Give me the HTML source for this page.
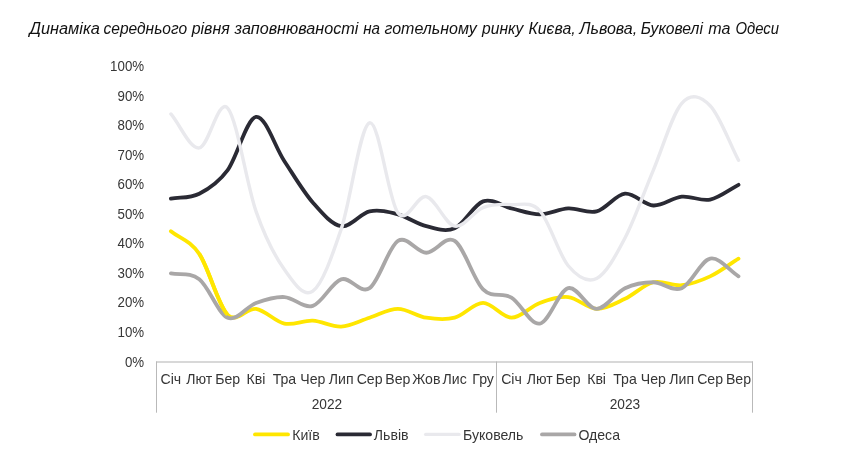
<!DOCTYPE html>
<html lang="uk">
<head>
<meta charset="utf-8">
<title>Динаміка середнього рівня заповнюваності</title>
<style>
html,body{margin:0;padding:0;background:#fff;}
body{width:843px;height:455px;overflow:hidden;position:relative;font-family:"Liberation Sans",sans-serif;}
svg{position:absolute;left:0;top:0;display:block;filter:blur(0.45px);}
.t{font-family:"Liberation Sans",sans-serif;font-size:14.1px;fill:#363636;}
.title{font-family:"Liberation Sans",sans-serif;font-style:italic;font-size:16px;fill:#121212;}
.ln{fill:none;stroke-linecap:round;stroke-linejoin:round;}
.ax{stroke:#bfbfbf;stroke-width:1;fill:none;}
</style>
</head>
<body>
<svg width="843" height="455" viewBox="0 0 843 455">
<rect x="0" y="0" width="843" height="455" fill="#ffffff"/>
<text class="title" y="34.3"><tspan x="29.40" textLength="70.41" lengthAdjust="spacingAndGlyphs">Динаміка</tspan> <tspan x="103.49" textLength="83.65" lengthAdjust="spacingAndGlyphs">середнього</tspan> <tspan x="191.65" textLength="38.11" lengthAdjust="spacingAndGlyphs">рівня</tspan> <tspan x="234.57" textLength="123.79" lengthAdjust="spacingAndGlyphs">заповнюваності</tspan> <tspan x="363.19" textLength="16.82" lengthAdjust="spacingAndGlyphs">на</tspan> <tspan x="384.48" textLength="92.22" lengthAdjust="spacingAndGlyphs">готельному</tspan> <tspan x="482.05" textLength="41.17" lengthAdjust="spacingAndGlyphs">ринку</tspan> <tspan x="528.43" textLength="47.21" lengthAdjust="spacingAndGlyphs">Києва,</tspan> <tspan x="579.51" textLength="57.64" lengthAdjust="spacingAndGlyphs">Львова,</tspan> <tspan x="640.73" textLength="62.17" lengthAdjust="spacingAndGlyphs">Буковелі</tspan> <tspan x="708.22" textLength="22.11" lengthAdjust="spacingAndGlyphs">та</tspan> <tspan x="735.45" textLength="43.61" lengthAdjust="spacingAndGlyphs">Одеси</tspan></text>
<text class="t" x="124.9" y="366.5" textLength="19.2" lengthAdjust="spacingAndGlyphs">0%</text>
<text class="t" x="117.5" y="337.0" textLength="26.6" lengthAdjust="spacingAndGlyphs">10%</text>
<text class="t" x="117.5" y="307.4" textLength="26.6" lengthAdjust="spacingAndGlyphs">20%</text>
<text class="t" x="117.5" y="277.9" textLength="26.6" lengthAdjust="spacingAndGlyphs">30%</text>
<text class="t" x="117.5" y="248.4" textLength="26.6" lengthAdjust="spacingAndGlyphs">40%</text>
<text class="t" x="117.5" y="218.8" textLength="26.6" lengthAdjust="spacingAndGlyphs">50%</text>
<text class="t" x="117.5" y="189.3" textLength="26.6" lengthAdjust="spacingAndGlyphs">60%</text>
<text class="t" x="117.5" y="159.8" textLength="26.6" lengthAdjust="spacingAndGlyphs">70%</text>
<text class="t" x="117.5" y="130.3" textLength="26.6" lengthAdjust="spacingAndGlyphs">80%</text>
<text class="t" x="117.5" y="100.7" textLength="26.6" lengthAdjust="spacingAndGlyphs">90%</text>
<text class="t" x="110.1" y="71.2" textLength="34.0" lengthAdjust="spacingAndGlyphs">100%</text>
<path d="M156,362 H753" stroke="#d8d8d8" stroke-width="2" fill="none"/>
<path d="M156.5,361.5 V412.7" stroke="#b9b9b9" stroke-width="1" fill="none"/>
<path d="M496.5,361.5 V412.7" stroke="#b9b9b9" stroke-width="1" fill="none"/>
<path d="M752.5,361.5 V412.7" stroke="#b9b9b9" stroke-width="1" fill="none"/>
<text class="t" x="170.9" y="383.6" text-anchor="middle">Січ</text>
<text class="t" x="199.3" y="383.6" text-anchor="middle">Лют</text>
<text class="t" x="227.7" y="383.6" text-anchor="middle">Бер</text>
<text class="t" x="256.0" y="383.6" text-anchor="middle">Кві</text>
<text class="t" x="284.4" y="383.6" text-anchor="middle">Тра</text>
<text class="t" x="312.8" y="383.6" text-anchor="middle">Чер</text>
<text class="t" x="341.2" y="383.6" text-anchor="middle">Лип</text>
<text class="t" x="369.6" y="383.6" text-anchor="middle">Сер</text>
<text class="t" x="397.9" y="383.6" text-anchor="middle">Вер</text>
<text class="t" x="426.3" y="383.6" text-anchor="middle">Жов</text>
<text class="t" x="454.7" y="383.6" text-anchor="middle">Лис</text>
<text class="t" x="483.1" y="383.6" text-anchor="middle">Гру</text>
<text class="t" x="511.5" y="383.6" text-anchor="middle">Січ</text>
<text class="t" x="539.8" y="383.6" text-anchor="middle">Лют</text>
<text class="t" x="568.2" y="383.6" text-anchor="middle">Бер</text>
<text class="t" x="596.6" y="383.6" text-anchor="middle">Кві</text>
<text class="t" x="625.0" y="383.6" text-anchor="middle">Тра</text>
<text class="t" x="653.4" y="383.6" text-anchor="middle">Чер</text>
<text class="t" x="681.7" y="383.6" text-anchor="middle">Лип</text>
<text class="t" x="710.1" y="383.6" text-anchor="middle">Сер</text>
<text class="t" x="738.5" y="383.6" text-anchor="middle">Вер</text>
<text class="t" x="311.7" y="408.8" textLength="30.5" lengthAdjust="spacingAndGlyphs">2022</text>
<text class="t" x="609.7" y="408.8" textLength="30.5" lengthAdjust="spacingAndGlyphs">2023</text>
<path class="ln" stroke="#FFE600" stroke-width="3.8" d="M170.89,231.18 C180.35,238.76 189.81,239.99 199.27,253.92 C208.73,267.85 218.19,305.60 227.65,314.75 C237.11,323.91 246.57,307.37 256.03,308.85 C265.49,310.32 274.95,321.64 284.41,323.61 C293.87,325.58 303.33,320.17 312.80,320.66 C322.26,321.15 331.72,327.06 341.18,326.56 C350.64,326.07 360.10,320.66 369.56,317.70 C379.02,314.75 388.48,308.85 397.94,308.85 C407.40,308.85 416.86,316.23 426.32,317.70 C435.78,319.18 445.24,320.17 454.70,317.70 C464.16,315.24 473.62,302.94 483.08,302.94 C492.54,302.94 502.00,317.70 511.46,317.70 C520.92,317.70 530.38,306.39 539.84,302.94 C549.30,299.49 558.76,296.05 568.22,297.03 C577.68,298.02 587.14,308.55 596.60,308.85 C606.07,309.14 615.53,303.24 624.99,298.81 C634.45,294.38 643.91,284.53 653.37,282.27 C662.83,280.01 672.29,286.21 681.75,285.22 C691.21,284.24 700.67,280.79 710.13,276.36 C719.59,271.93 729.05,264.55 738.51,258.64"/>
<path class="ln" stroke="#2A2A34" stroke-width="3.8" d="M170.89,198.70 C180.35,197.03 189.81,198.45 199.27,193.68 C208.73,188.90 218.19,182.85 227.65,170.06 C237.11,157.26 246.57,118.38 256.03,116.90 C265.49,115.42 274.95,146.92 284.41,161.20 C293.87,175.47 303.33,191.71 312.80,202.54 C322.26,213.37 331.72,224.69 341.18,226.16 C350.64,227.64 360.10,213.37 369.56,211.40 C379.02,209.43 388.48,211.89 397.94,214.35 C407.40,216.81 416.86,223.85 426.32,226.16 C435.78,228.48 445.24,232.36 454.70,228.23 C464.16,224.09 473.62,204.65 483.08,201.36 C492.54,198.06 502.00,206.28 511.46,208.44 C520.92,210.61 530.38,214.35 539.84,214.35 C549.30,214.35 558.76,208.94 568.22,208.44 C577.68,207.95 587.14,213.86 596.60,211.40 C606.07,208.94 615.53,194.66 624.99,193.68 C634.45,192.69 643.91,205.00 653.37,205.49 C662.83,205.98 672.29,197.62 681.75,196.63 C691.21,195.65 700.67,201.55 710.13,199.59 C719.59,197.62 729.05,189.74 738.51,184.82"/>
<path class="ln" stroke="#E9E9ED" stroke-width="3.4" d="M170.89,113.95 C180.35,125.27 189.81,148.89 199.27,147.91 C208.73,146.92 218.19,97.46 227.65,108.04 C237.11,118.62 246.57,184.48 256.03,211.40 C265.49,238.32 274.95,256.28 284.41,269.57 C293.87,282.86 303.33,297.87 312.80,291.13 C322.26,284.39 331.72,257.17 341.18,229.12 C350.64,201.06 360.10,125.51 369.56,122.81 C379.02,120.10 388.48,200.57 397.94,212.87 C407.40,225.18 416.86,194.42 426.32,196.63 C435.78,198.85 445.24,224.34 454.70,226.16 C464.16,227.98 473.62,211.15 483.08,207.56 C492.54,203.97 502.00,204.06 511.46,204.61 C520.92,205.15 530.38,200.62 539.84,210.81 C549.30,220.99 558.76,254.46 568.22,265.73 C577.68,277.00 587.14,283.06 596.60,278.43 C606.07,273.80 615.53,256.04 624.99,237.97 C634.45,219.91 643.91,192.50 653.37,170.06 C662.83,147.61 672.29,114.05 681.75,103.32 C691.17,92.64 700.67,96.18 710.13,105.68 C719.59,115.18 729.05,142.10 738.51,160.31"/>
<path class="ln" stroke="#A9A7A7" stroke-width="3.8" d="M170.89,273.41 C180.35,275.38 189.81,271.93 199.27,279.32 C208.73,286.70 218.19,313.77 227.65,317.70 C237.11,321.64 246.57,306.39 256.03,302.94 C265.49,299.49 274.95,296.54 284.41,297.03 C293.87,297.53 303.33,308.85 312.80,305.89 C322.26,302.94 331.72,282.27 341.18,279.32 C350.64,276.36 360.10,294.57 369.56,288.18 C379.02,281.78 388.48,246.83 397.94,240.93 C407.40,235.02 416.86,252.74 426.32,252.74 C435.78,252.74 445.24,234.82 454.70,240.93 C464.16,247.03 473.62,279.91 483.08,289.36 C492.54,298.81 502.00,291.92 511.46,297.62 C520.92,303.33 530.38,325.19 539.84,323.61 C549.30,322.04 558.76,290.64 568.22,288.18 C577.68,285.71 587.14,308.85 596.60,308.85 C606.07,308.85 615.53,292.60 624.99,288.18 C634.45,283.75 643.91,282.27 653.37,282.27 C662.83,282.27 672.29,292.11 681.75,288.18 C691.21,284.24 700.67,260.61 710.13,258.64 C719.59,256.68 729.05,270.46 738.51,276.36"/>
<path class="ln" stroke="#FFE600" stroke-width="3.8" style="stroke-linecap:butt" d="M199.27,253.92 C208.73,267.85 218.19,305.60 227.65,314.75"/>
<path class="ln" stroke="#FFE600" stroke-width="3.8" d="M255.0,434.4 H288.0"/>
<text class="t" x="292.2" y="439.7">Київ</text>
<path class="ln" stroke="#2A2A34" stroke-width="3.8" d="M337.5,434.4 H370.0"/>
<text class="t" x="373.8" y="439.7">Львів</text>
<path class="ln" stroke="#E9E9ED" stroke-width="3.4" d="M425.7,434.4 H459.0"/>
<text class="t" x="463.0" y="439.7">Буковель</text>
<path class="ln" stroke="#A9A7A7" stroke-width="3.8" d="M542.0,434.4 H574.5"/>
<text class="t" x="578.4" y="439.7">Одеса</text>
</svg>
</body>
</html>
